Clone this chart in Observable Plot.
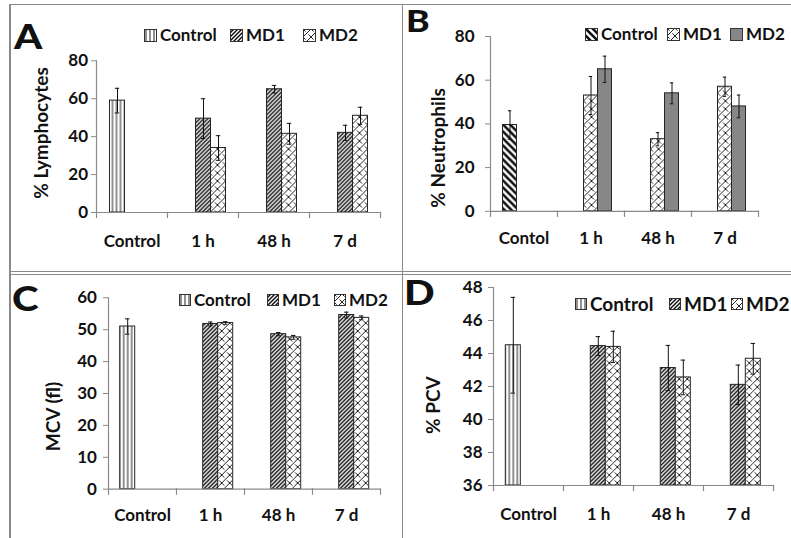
<!DOCTYPE html>
<html><head><meta charset="utf-8">
<script src="https://cdn.jsdelivr.net/npm/d3@7"></script>
<script src="https://cdn.jsdelivr.net/npm/@observablehq/plot@0.6"></script>
<style>
body{margin:0;background:#fff;}
#root{position:relative;width:791px;height:538px;overflow:hidden;background:#fff;font-family:Lato,"Open Sans",sans-serif;color:#111;}
.panel{position:absolute;}
.letter{position:absolute;font-weight:900;font-size:35px;line-height:26px;height:26px;transform:scaleX(1.15);transform-origin:left center;}
.leg{position:absolute;display:flex;align-items:center;height:20px;font-weight:700;font-size:17px;line-height:20px;white-space:nowrap;}
.leg svg{margin-right:3px;flex:none;}
.rule{position:absolute;background:#8a8a8a;}
</style></head><body>
<svg width="0" height="0" style="position:absolute">
<defs>
<pattern id="pVert" patternUnits="userSpaceOnUse" width="4" height="4">
 <rect width="4" height="4" fill="#fff"/>
 <line x1="2" y1="0" x2="2" y2="4" stroke="#222" stroke-width="1"/>
</pattern>
<pattern id="pDkUp" patternUnits="userSpaceOnUse" width="4" height="4">
 <rect width="4" height="4" fill="#fff"/>
 <path d="M-1,1 L1,-1 M0,4 L4,0 M3,5 L5,3" stroke="#111" stroke-width="1.5"/>
</pattern>
<pattern id="pWeave" patternUnits="userSpaceOnUse" width="8" height="8">
 <rect width="8" height="8" fill="#fff"/>
 <path d="M0,8 L8,0 M0,0 L2.6,2.6 M5.4,5.4 L8,8" stroke="#222" stroke-width="1"/>
</pattern>
<pattern id="pWideDn" patternUnits="userSpaceOnUse" width="7" height="7">
 <rect width="7" height="7" fill="#fff"/>
 <path d="M-1,-1 L8,8 M-2,5 L2,9 M5,-2 L9,2" stroke="#111" stroke-width="2.6"/>
</pattern>
</defs></svg>
<div id="root"></div>
<script>
// ---------- categories ----------
const series = ["Control", "MD1", "MD2"];
const groups = ["Control", "1 h", "48 h", "7 d"];
const groupsB = ["Contol", "1 h", "48 h", "7 d"];

// ---------- A: % Lymphocytes ----------
const lymCtrl = [59.0], lymCtrlSD = [6.5];
const lymMD1 = [49.5, 65.0, 42.0], lymMD1SD = [10.5, 2.0, 4.0];
const lymMD2 = [34.0, 41.5, 51.0], lymMD2SD = [6.5, 5.5, 4.5];
const lymTicks = [0, 20, 40, 60, 80];

// ---------- B: % Neutrophils ----------
const neuCtrl = [39.5], neuCtrlSD = [6.5];
const neuMD1 = [53.0, 33.0, 57.0], neuMD1SD = [8.7, 3.0, 4.4];
const neuMD2 = [65.0, 54.0, 48.0], neuMD2SD = [6.0, 4.8, 5.2];
const neuTicks = [0, 20, 40, 60, 80];

// ---------- C: MCV (fl) ----------
const mcvCtrl = [51.0], mcvCtrlSD = [2.4];
const mcvMD1 = [51.8, 48.6, 54.6], mcvMD1SD = [0.6, 0.5, 0.9];
const mcvMD2 = [52.1, 47.6, 53.7], mcvMD2SD = [0.4, 0.6, 0.6];
const mcvTicks = [0, 10, 20, 30, 40, 50, 60];

// ---------- D: % PCV ----------
const pcvCtrl = [44.5], pcvCtrlSD = [2.9];
const pcvMD1 = [44.45, 43.12, 42.1], pcvMD1SD = [0.57, 1.37, 1.2];
const pcvMD2 = [44.4, 42.55, 43.68], pcvMD2SD = [0.95, 1.05, 0.93];
const pcvTicks = [36, 38, 40, 42, 44, 46, 48];

function buildRows(cats, c, cSD, m1, m1SD, m2, m2SD) {
  const out = [{cat: cats[0], series: "Control", v: c[0], e: cSD[0]}];
  cats.slice(1).forEach((cat, i) => {
    out.push({cat, series: "MD1", v: m1[i], e: m1SD[i]});
    out.push({cat, series: "MD2", v: m2[i], e: m2SD[i]});
  });
  return out;
}

const GRAY = "#8a8a8a";
const root = document.getElementById("root");

function panel(cfg) {
  const {left, top, width, height, mL, mR, mT, mB, cats, rows, ticks, fills,
         yLabel, ldx, ldy, tickPad, fxPad} = cfg;
  const yMin = ticks[0], yMax = ticks[ticks.length - 1];
  const plotH = height - mT - mB;
  const svg = Plot.plot({
    width, height,
    marginLeft: mL, marginRight: mR, marginTop: mT, marginBottom: mB,
    style: "font-family: Lato, 'Open Sans', sans-serif; font-size: 17px; font-weight: 700; color: #111; background: transparent; overflow: visible;",
    fx: {domain: cats, padding: 0, label: null},
    x: {domain: series, paddingInner: 0, paddingOuter: 0.75, axis: null},
    y: {domain: [yMin, yMax]},
    color: {domain: series, range: fills},
    marks: [
      Plot.barY(rows, {fx: "cat", x: "series", y1: yMin, y2: "v", fill: "series", stroke: "#262626", strokeWidth: 1}),
      Plot.ruleX(rows, {fx: "cat", x: "series", y1: d => d.v - d.e, y2: d => d.v + d.e, stroke: "#111", strokeWidth: 1}),
      Plot.tickY(rows, {fx: "cat", x: "series", y: d => d.v + d.e, insetLeft: 5.3, insetRight: 5.3, stroke: "#111"}),
      Plot.tickY(rows, {fx: "cat", x: "series", y: d => d.v - d.e, insetLeft: 5.3, insetRight: 5.3, stroke: "#111"}),
      Plot.frame({anchor: "bottom", stroke: GRAY, strokeWidth: 1.2}),
      Plot.frame({anchor: "left", facetAnchor: "left", insetBottom: -5, stroke: GRAY, strokeWidth: 1.2}),
      Plot.frame({anchor: "right", insetTop: plotH, insetBottom: -5, stroke: GRAY, strokeWidth: 1.2}),
      Plot.axisY({ticks, tickSize: 5, tickPadding: tickPad, label: null, stroke: GRAY, fill: "#111"}),
      Plot.axisFx({anchor: "bottom", tickSize: 0, tickPadding: fxPad, label: null, fill: "#111"}),
      Plot.text([yLabel], {text: d => d, frameAnchor: "left", facetAnchor: "left", rotate: -90,
        textAnchor: "middle", dx: ldx, dy: ldy, fontSize: 19, fontWeight: 700, lineAnchor: "middle", fill: "#111"})
    ]
  });
  const div = document.createElement("div");
  div.className = "panel";
  div.style.left = left + "px";
  div.style.top = top + "px";
  div.appendChild(svg);
  root.appendChild(div);

  // panel letter
  const L = document.createElement("div");
  L.className = "letter";
  L.textContent = cfg.letter;
  L.style.left = cfg.letterX + "px";
  L.style.top = cfg.letterTop + "px";
  if (cfg.letterSize) L.style.fontSize = cfg.letterSize + "px";
  root.appendChild(L);

  // legend
  cfg.legendX.forEach((x, i) => {
    const it = document.createElement("div");
    it.className = "leg";
    it.style.left = x + "px";
    it.style.top = (cfg.legendY - 10) + "px";
    it.style.fontSize = cfg.legendFont + "px";
    const s = cfg.swatch;
    it.innerHTML = `<svg width="${s}" height="${s}"><rect x="0.5" y="0.5" width="${s-1}" height="${s-1}" fill="${fills[i]}" stroke="#333" stroke-width="1"/></svg><span>${series[i]}</span>`;
    root.appendChild(it);
  });
}

const fillsACD = ["url(#pVert)", "url(#pDkUp)", "url(#pWeave)"];
const fillsB = ["url(#pWideDn)", "url(#pWeave)", "#868686"];

panel({left: 10, top: 5, width: 392, height: 267, mL: 85.5, mR: 21.3, mT: 55.3, mB: 60,
  cats: groups, rows: buildRows(groups, lymCtrl, lymCtrlSD, lymMD1, lymMD1SD, lymMD2, lymMD2SD),
  ticks: lymTicks, fills: fillsACD, yLabel: "% Lymphocytes", ldx: -55, ldy: -3.7, tickPad: 3.4, fxPad: 22,
  letter: "A", letterX: 14, letterTop: 22, legendX: [144, 230, 303], legendY: 35, legendFont: 17, swatch: 13});

panel({left: 403, top: 5, width: 388, height: 267, mL: 85.5, mR: 32.5, mT: 31, mB: 61.2,
  cats: groupsB, rows: buildRows(groupsB, neuCtrl, neuCtrlSD, neuMD1, neuMD1SD, neuMD2, neuMD2SD),
  ticks: neuTicks, fills: fillsB, yLabel: "% Neutrophils", ldx: -52, ldy: 24, tickPad: 11, fxPad: 21,
  letter: "B", letterX: 406, letterTop: 7, letterSize: 31, legendX: [585, 667, 730], legendY: 34, legendFont: 17, swatch: 13});

panel({left: 10, top: 275, width: 392, height: 263, mL: 98.3, mR: 21.3, mT: 22.3, mB: 49.3,
  cats: groups, rows: buildRows(groups, mcvCtrl, mcvCtrlSD, mcvMD1, mcvMD1SD, mcvMD2, mcvMD2SD),
  ticks: mcvTicks, fills: fillsACD, yLabel: "MCV (fl)", ldx: -55, ldy: 23, tickPad: 6.6, fxPad: 20,
  letter: "C", letterX: 12, letterTop: 284, legendX: [179, 267, 334], legendY: 300, legendFont: 17, swatch: 12});

panel({left: 403, top: 275, width: 388, height: 263, mL: 89.7, mR: 17.7, mT: 12, mB: 53,
  cats: groups, rows: buildRows(groups, pcvCtrl, pcvCtrlSD, pcvMD1, pcvMD1SD, pcvMD2, pcvMD2SD),
  ticks: pcvTicks, fills: fillsACD, yLabel: "% PCV", ldx: -59.4, ldy: 18.7, tickPad: 6, fxPad: 22,
  letter: "D", letterX: 404, letterTop: 278, legendX: [575, 669, 731], legendY: 303.5, legendFont: 19, swatch: 12});

// panel borders
[[9, 4, 1.5, 534], [401.5, 4, 1.3, 534], [9, 4, 782, 1.3], [9, 271.3, 782, 1], [9, 274, 782, 1]].forEach(([x, y, w, h]) => {
  const r = document.createElement("div");
  r.className = "rule";
  Object.assign(r.style, {left: x + "px", top: y + "px", width: w + "px", height: h + "px"});
  root.appendChild(r);
});
</script>
</body></html>
